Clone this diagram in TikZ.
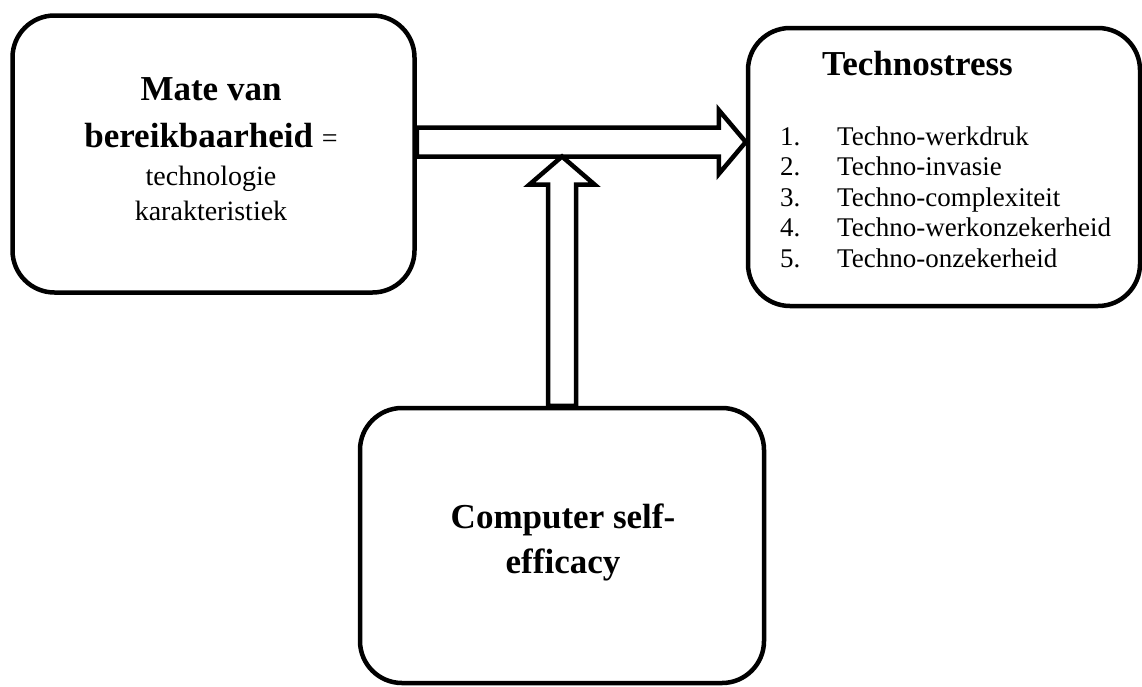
\documentclass[tikz,border=0pt]{standalone}
\usepackage{fontspec}
\setmainfont{Liberation Serif}
\usetikzlibrary{calc}

\begin{document}
\begin{tikzpicture}[x=1pt,y=-1pt,
    box/.style={draw,line width=4.5pt,rounded corners=42pt,fill=white},
    blockarrow/.style={draw,line width=4.5pt,fill=white,line join=miter},
    headtxt/.style={font=\fontsize{35}{42}\selectfont\bfseries,inner sep=0pt},
    bodytxt/.style={font=\fontsize{28}{34}\selectfont,inner sep=0pt},
    listtxt/.style={font=\fontsize{27}{32}\selectfont,inner sep=0pt,anchor=base west}]
    \useasboundingbox (0,0) rectangle (1142,686);

    % Boxes
    \node[box,minimum width=402pt,minimum height=277pt] (mate) at (213.5,154) {};
    \node[box,minimum width=392pt,minimum height=278pt] (stress) at (944,167) {};
    \node[box,minimum width=404pt,minimum height=275pt] (cse) at (562,545.5) {};

    % Block arrows
    \coordinate (hs) at (mate.east |- 0,142);
    \coordinate (ht) at (stress.west |- 0,142);
    \draw[blockarrow] ($(hs)+(0,-14.5)$) -- ($(ht)+(-27,-14.5)$) -- ($(ht)+(-27,-32)$)
        -- (ht) -- ($(ht)+(-27,32)$) -- ($(ht)+(-27,14.5)$) -- ($(hs)+(0,14.5)$) -- cycle;

    \coordinate (vs) at (cse.north);
    \coordinate (vt) at ($(cse.north |- hs)+(0,14.5)$);
    \draw[blockarrow] ($(vs)+(-14,0)$) -- ($(vt)+(-14,28)$) -- ($(vt)+(-32.5,28)$)
        -- (vt) -- ($(vt)+(32.5,28)$) -- ($(vt)+(14,28)$) -- ($(vs)+(14,0)$) -- cycle;

    % Labels: left box
    \node[headtxt,anchor=base] (mate1) at (211,100) {Mate van};
    \node[headtxt,anchor=base] (mate2) at (211,147)
        {bereikbaarheid {\fontsize{28}{34}\selectfont\mdseries =}};
    \node[bodytxt,anchor=base] (mate3) at (211,185) {technologie};
    \node[bodytxt,anchor=base] (mate4) at (211,220) {karakteristiek};

    % Labels: right box
    \node[headtxt,anchor=base west] (stress0) at (822,75) {Technostress};
    \node[listtxt] (stress1) at (780,145) {\makebox[57pt][l]{1.}Techno-werkdruk};
    \node[listtxt] (stress2) at (780,175.5) {\makebox[57pt][l]{2.}Techno-invasie};
    \node[listtxt] (stress3) at (780,206) {\makebox[57pt][l]{3.}Techno-complexiteit};
    \node[listtxt] (stress4) at (780,236.5) {\makebox[57pt][l]{4.}Techno-werkonzekerheid};
    \node[listtxt] (stress5) at (780,267) {\makebox[57pt][l]{5.}Techno-onzekerheid};

    % Labels: bottom box
    \node[headtxt,anchor=base] (cse1) at (563,528) {Computer self-};
    \node[headtxt,anchor=base] (cse2) at (563,573) {efficacy};
\end{tikzpicture}
\end{document}
